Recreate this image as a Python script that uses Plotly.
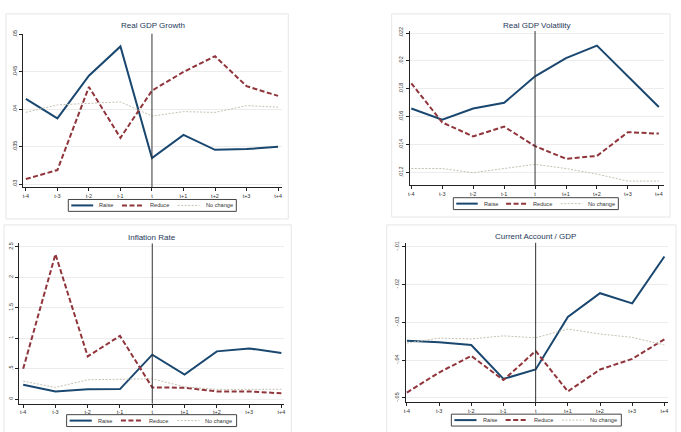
import plotly.graph_objects as go

W, H = 681, 432

periods = ["t-4", "t-3", "t-2", "t-1", "t", "t+1", "t+2", "t+3", "t+4"]
series_names = ["Raise", "Reduce", "No change"]

gdp_growth_raise = [.0414, .0388, .0445, .0484, .0335, .0366, .0346, .0347, .0350]
gdp_growth_reduce = [.0307, .0319, .0430, .0362, .0425, .0450, .0471, .0431, .0418]
gdp_growth_nochange = [.0396, .0406, .0408, .0410, .0391, .0397, .0396, .0405, .0403]

gdp_vol_raise = [.0166, .0158, .0166, .0170, .0189, .0202, .0211, .0189, .0167]
gdp_vol_reduce = [.0184, .0156, .0146, .0153, .0139, .0130, .0132, .0149, .0148]
gdp_vol_nochange = [.0123, .0123, .0120, .0123, .0126, .0123, .0119, .0114, .0114]

infl_raise = [.235, .125, .158, .163, .728, .402, .782, .831, .756]
infl_reduce = [.495, 2.378, .700, 1.037, .190, .185, .125, .125, .093]
infl_nochange = [.293, .190, .316, .320, .332, .200, .158, .158, .160]

ca_raise = [-.0349, -.0353, -.0360, -.0450, -.0425, -.0286, -.0223, -.0250, -.0126]
ca_reduce = [-.0486, -.0433, -.0389, -.0453, -.0376, -.0483, -.0425, -.0397, -.0345]
ca_nochange = [-.0355, -.0342, -.0344, -.0336, -.0341, -.0318, -.0331, -.0340, -.0360]

gdp_growth_ticks = [.03, .035, .04, .045, .05]
gdp_growth_ticklabels = [".03", ".035", ".04", ".045", ".05"]
gdp_vol_ticks = [.012, .014, .016, .018, .02, .022]
gdp_vol_ticklabels = [".012", ".014", ".016", ".018", ".02", ".022"]
infl_ticks = [0, .5, 1, 1.5, 2, 2.5]
infl_ticklabels = ["0", ".5", "1", "1.5", "2", "2.5"]
ca_ticks = [-.05, -.04, -.03, -.02, -.01]
ca_ticklabels = ["-.05", "-.04", "-.03", "-.02", "-.01"]

titles = ["Real GDP Growth", "Real GDP Volatility", "Inflation Rate", "Current Account / GDP"]

FONT = "Liberation Sans, Arial, sans-serif"
colors = ["#1a476f", "#90353b", "#c4c0b0"]
dashes = ["solid", "5px,2.5px", "2px,1.5px"]
widths = [2, 2, 1]


def px_x(p):
    return p / W


def px_y(p):
    return 1 - p / H


panels = [
    dict(data=[gdp_growth_raise, gdp_growth_reduce, gdp_growth_nochange],
         ticks=gdp_growth_ticks, labels=gdp_growth_ticklabels,
         xd=(21, 282), yd=(30, 185), xr=[-0.095, 8.136], yr=[.0296, .0501],
         title=(151.5, 22), legend=(66.7, 197.3, 169), box=(4, 10, 288, 217)),
    dict(data=[gdp_vol_raise, gdp_vol_reduce, gdp_vol_nochange],
         ticks=gdp_vol_ticks, labels=gdp_vol_ticklabels,
         xd=(410, 666), yd=(27.3, 182.7), xr=[-0.055, 8.17], yr=[.01112, .02214],
         title=(538, 22), legend=(454, 195.5, 166), box=(392, 10, 672, 215)),
    dict(data=[infl_raise, infl_reduce, infl_nochange],
         ticks=infl_ticks, labels=infl_ticklabels,
         xd=(17.3, 283.3), yd=(241.7, 403.3), xr=[-0.123, 8.07], yr=[-.075, 2.554],
         title=(151, 235.7), legend=(65, 414.5, 171), box=(2, 223, 291, 440)),
    dict(data=[ca_raise, ca_reduce, ca_nochange],
         ticks=ca_ticks, labels=ca_ticklabels,
         xd=(406, 670), yd=(241, 401.7), xr=[-0.04, 8.114], yr=[-.0511, -.00895],
         title=(537, 235), legend=(452, 414, 171), box=(387, 223, 678, 440)),
]

# legend entry layout relative to a 169px-wide box
leg_sample_start = [3, 54, 110]
leg_text_start = [29, 80, 136]
leg_sample_len = 22
leg_h = 12

fig = go.Figure()
layout = dict(
    width=W, height=H, margin=dict(l=0, r=0, t=0, b=0),
    paper_bgcolor="white", plot_bgcolor="white",
    font=dict(family=FONT, size=6, color="#333333"),
    showlegend=False,
)
shapes = []
annotations = []

for i, p in enumerate(panels):
    n = i + 1
    xa = "x" if n == 1 else f"x{n}"
    ya = "y" if n == 1 else f"y{n}"
    for j in range(3):
        fig.add_trace(go.Scatter(
            x=periods, y=p["data"][j], mode="lines", name=series_names[j],
            line=dict(color=colors[j], width=widths[j], dash=dashes[j]),
            xaxis=xa, yaxis=ya, showlegend=False,
        ))
    layout[f"xaxis{'' if n == 1 else n}"] = dict(
        domain=[px_x(p["xd"][0]), px_x(p["xd"][1])], anchor=ya,
        type="category", range=p["xr"], showgrid=False, zeroline=False,
        showline=True, linecolor="#222", linewidth=1,
        ticks="outside", ticklen=3, tickcolor="#222", tickwidth=1,
        tickfont=dict(size=5.5, color="#333"),
    )
    layout[f"yaxis{'' if n == 1 else n}"] = dict(
        domain=[px_y(p["yd"][1]), px_y(p["yd"][0])], anchor=xa,
        range=p["yr"], tickvals=p["ticks"], ticktext=p["labels"],
        showgrid=True, gridcolor="#ececec", gridwidth=1, zeroline=False,
        showline=True, linecolor="#222", linewidth=1,
        ticks="outside", ticklen=3, tickcolor="#222", tickwidth=1,
        tickangle=-90, tickfont=dict(size=5.5, color="#333"),
    )
    # vertical reference line at t
    shapes.append(dict(type="line", xref=xa, yref=f"{ya} domain", x0="t", x1="t",
                       y0=0, y1=1, line=dict(color="#333", width=1)))
    # panel border
    bx = p["box"]
    shapes.append(dict(type="rect", xref="paper", yref="paper",
                       x0=px_x(bx[0]), x1=px_x(bx[2]), y0=px_y(bx[3]), y1=px_y(bx[1]),
                       line=dict(color="#e6e6e6", width=1), layer="below"))
    annotations.append(dict(text=titles[i], x=px_x(p["title"][0]), y=px_y(p["title"][1]),
                            xref="paper", yref="paper", xanchor="center", yanchor="middle",
                            showarrow=False, font=dict(size=8, color="#26395a", family=FONT)))
    # legend (drawn manually, Stata-style compact box)
    lx, ly, lw = p["legend"]
    sc = lw / 169.0
    shapes.append(dict(type="rect", xref="paper", yref="paper",
                       x0=px_x(lx), x1=px_x(lx + lw), y0=px_y(ly + leg_h), y1=px_y(ly),
                       line=dict(color="#444", width=1), fillcolor="white"))
    cy = ly + leg_h / 2
    for j in range(3):
        s0 = lx + leg_sample_start[j] * sc
        shapes.append(dict(type="line", xref="paper", yref="paper",
                           x0=px_x(s0), x1=px_x(s0 + leg_sample_len * sc),
                           y0=px_y(cy), y1=px_y(cy),
                           line=dict(color=colors[j], width=widths[j], dash=dashes[j])))
        annotations.append(dict(text=series_names[j], x=px_x(lx + leg_text_start[j] * sc),
                                y=px_y(cy), xref="paper", yref="paper",
                                xanchor="left", yanchor="middle", showarrow=False,
                                font=dict(size=5.6, color="#333", family=FONT)))

layout["shapes"] = shapes
layout["annotations"] = annotations
fig.update_layout(**layout)
fig.write_html("out.html")
